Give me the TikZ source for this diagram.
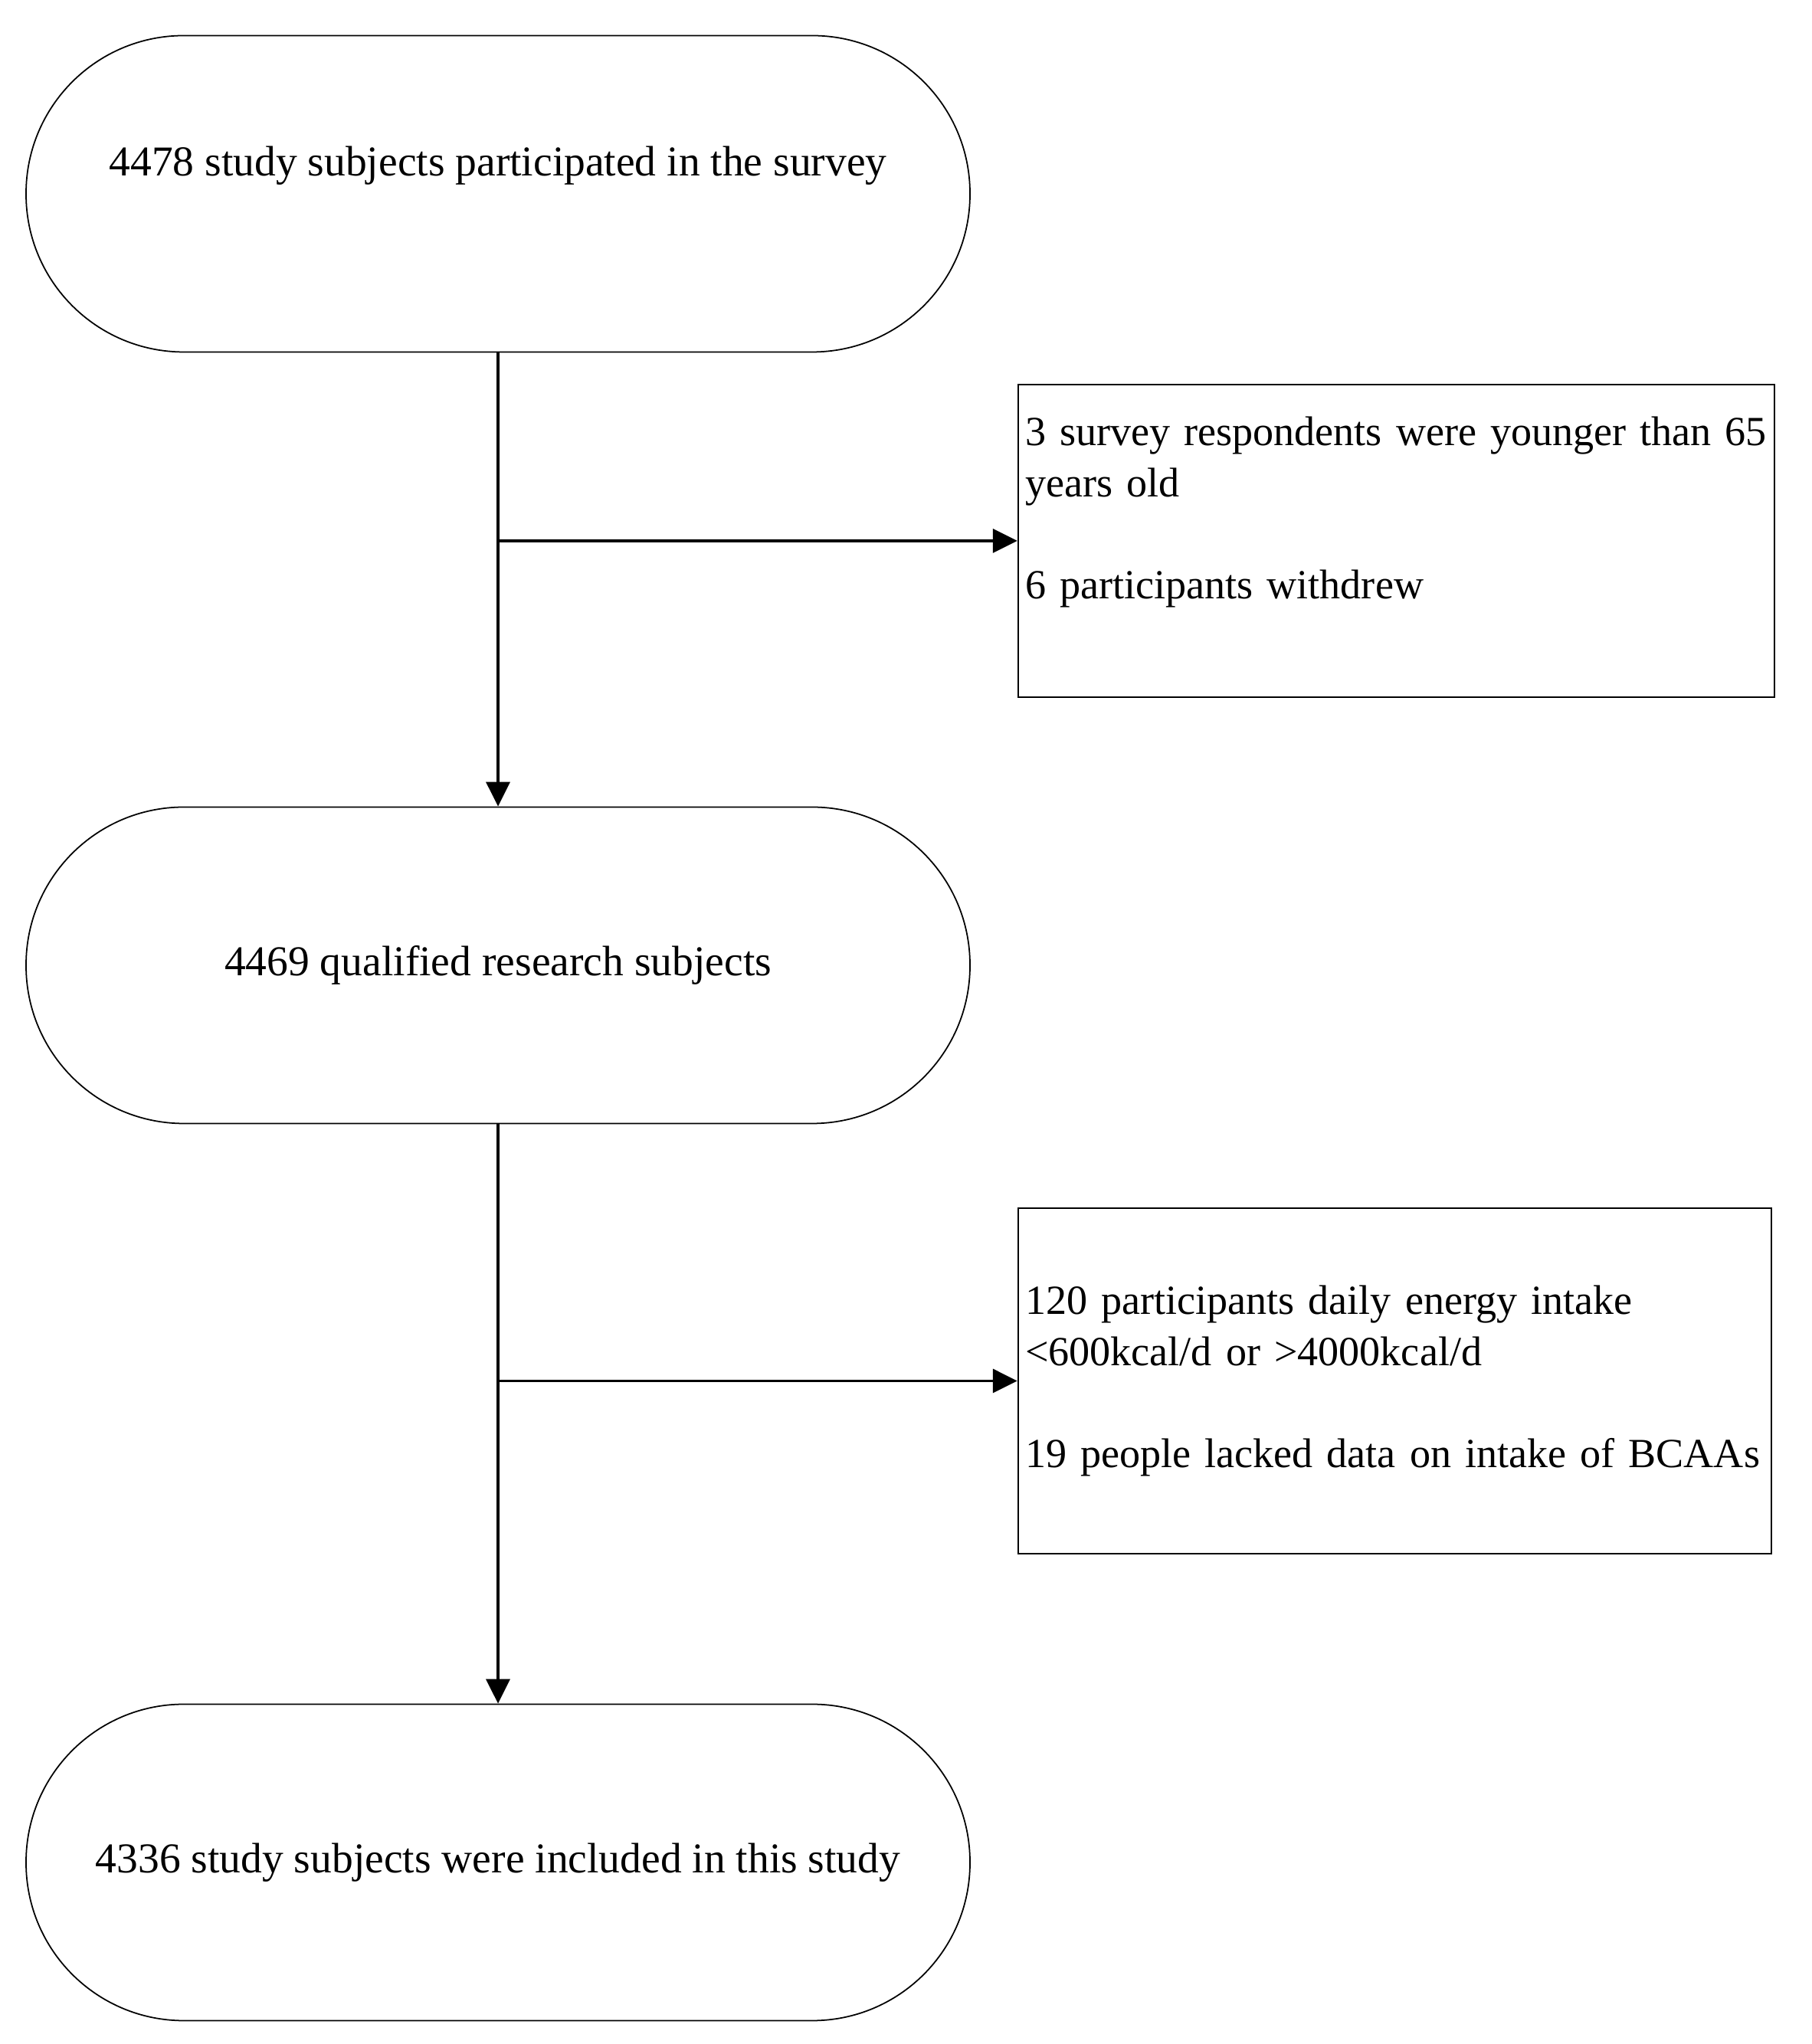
\documentclass[tikz,border=0pt]{standalone}
\usepackage{fontspec}
\setmainfont{Liberation Serif}
\usepackage{tikz}
\usetikzlibrary{arrows.meta,positioning}

\tikzset{
    stadium/.style={draw, line width=0.5pt, rounded corners=20.6mm,
        minimum width=12.32cm, minimum height=4.13cm, align=center},
    exclbox/.style={draw, line width=0.7pt, align=left, inner xsep=0.9mm,
        inner ysep=0pt, font=\fontsize{15.4}{18.9}\selectfont},
    flow/.style={-{Triangle[length=3.2mm,width=3.1mm]}, line width=1pt}
}

\begin{document}
\begin{tikzpicture}[font=\fontsize{15.8}{18.9}\selectfont]
    \useasboundingbox (0,0) rectangle (23.65,26.68);
    \node[stadium] (start) at (6.5,24.15)
        {4478 study subjects participated in the survey\\\strut};
    \node[stadium] (qual) at (6.5,14.08) {4469 qualified research subjects};
    \node[stadium] (incl) at (6.5,2.37)
        {4336 study subjects were included in this study};
    \node[exclbox, text width=9.69cm, minimum height=4.08cm] (excl1) at (18.225,19.62)
        {3 survey respondents were younger than 65\\years old\\[\baselineskip]
         6 participants withdrew\\\strut};
    \node[exclbox, text width=9.65cm, minimum height=4.51cm] (excl2) at (18.205,8.655)
        {120 participants daily energy intake\\<600kcal/d or >4000kcal/d\\[\baselineskip]
         19 people lacked data on intake of BCAAs};
    \draw[flow] (start.south) -- (qual.north);
    \draw[flow] (qual.south) -- (incl.north);
    \coordinate (b1) at (start.south |- excl1.west);
    \coordinate (b2) at (qual.south |- excl2.west);
    \draw[flow] (b1) -- (excl1.west);
    \draw[flow] (b2) -- (excl2.west);
\end{tikzpicture}
\end{document}
